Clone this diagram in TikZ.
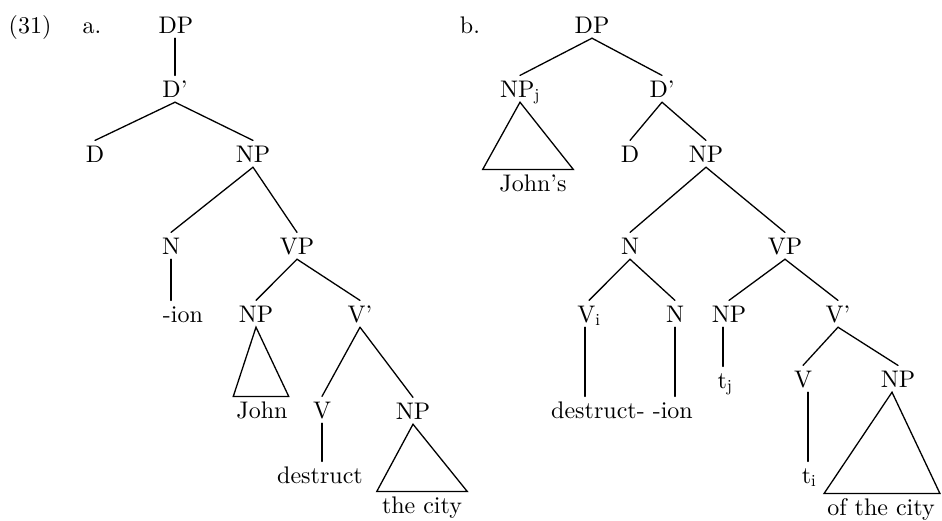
\documentclass[tikz,border=0pt]{standalone}
\usepackage{fontspec}
\setmainfont{lmroman10-regular}[Extension=.otf]
\begin{document}
\begin{tikzpicture}[x=1pt,y=-1pt,
  lab/.style={font=\fontsize{24}{28}\selectfont, inner xsep=2pt, inner ysep=5pt,
              text height=16.4pt, text depth=0pt, anchor=base},
  br/.style={line width=1.3pt, line cap=round}]
\useasboundingbox (0,0) rectangle (942,520);
% labels
\node[lab] (n31) at (30,33) {(31)};
\node[lab] (la) at (92,33) {a.};
\node[lab] (lb) at (470,33) {b.};
% ---------- tree a ----------
\node[lab] (aDP) at (176,33) {DP};
\node[lab] (aDb) at (175,97) {D'};
\node[lab] (aD) at (95,162) {D};
\node[lab] (aNP) at (253,162) {NP};
\node[lab] (aN) at (171,254) {N};
\node[lab] (aVP) at (297,254) {VP};
\node[lab] (aion) at (183,322) {-ion};
\node[lab] (aNPb) at (256,322) {NP};
\node[lab] (aVb) at (360,322) {V'};
\node[lab] (aJohn) at (262,418) {John};
\node[lab] (aV) at (322,418) {V};
\node[lab] (aNPc) at (413,419) {NP};
\node[lab] (adest) at (320,483) {destruct};
\node[lab] (acity) at (422,513) {the city};
\draw[br] (aDb.north |- aDP.south) -- (aDb.north);
\draw[br] (aDb.south) -- (aD.north);
\draw[br] (aDb.south) -- (aNP.north);
\draw[br] (aNP.south) -- (aN.north);
\draw[br] (aNP.south) -- (aVP.north);
\draw[br] (aN.south) -- (aN.south |- aion.north);
\draw[br] (aVP.south) -- (aNPb.north);
\draw[br] (aVP.south) -- (aVb.north);
\draw[br] (aNPb.south) -- ([xshift=-1pt]aJohn.north west) -- ([xshift=-1pt]aJohn.north east) -- cycle;
\draw[br] (aVb.south) -- (aV.north);
\draw[br] (aVb.south) -- (aNPc.north);
\draw[br] (aV.south) -- (aV.south |- adest.north);
\draw[br] (aNPc.south) -- ([xshift=-3pt]acity.north west) -- ([xshift=3pt]acity.north east) -- cycle;
% ---------- tree b ----------
\node[lab] (bDP) at (592,33) {DP};
\node[lab] (bNPj) at (520,97) {NP\textsubscript{j}};
\node[lab] (bDb) at (662,97) {D'};
\node[lab] (bJohns) at (533,191) {John's};
\node[lab] (bD) at (630,162) {D};
\node[lab] (bNP) at (706,162) {NP};
\node[lab] (bN) at (630,254) {N};
\node[lab] (bVP) at (785,254) {VP};
\node[lab] (bVi) at (589,322) {V\textsubscript{i}};
\node[lab] (bNb) at (675,322) {N};
\node[lab] (bNPb) at (729,322) {NP};
\node[lab] (bVb) at (838,322) {V'};
\node[lab] (bdest) at (622,418) {destruct- -ion};
\node[lab] (btj) at (725,388) {t\textsubscript{j}};
\node[lab] (bV) at (803,387) {V};
\node[lab] (bNPc) at (898,387) {NP};
\node[lab] (bti) at (809,483) {t\textsubscript{i}};
\node[lab] (bcity) at (881,515) {of the city};
\draw[br] (bDP.south) -- (bNPj.north);
\draw[br] (bDP.south) -- (bDb.north);
\draw[br] (bNPj.south) -- ([xshift=-14.5pt]bJohns.north west) -- ([xshift=4.5pt]bJohns.north east) -- cycle;
\draw[br] (bDb.south) -- (bD.north);
\draw[br] (bDb.south) -- (bNP.north);
\draw[br] (bNP.south) -- (bN.north);
\draw[br] (bNP.south) -- (bVP.north);
\draw[br] (bN.south) -- (bVi.north);
\draw[br] (bN.south) -- (bNb.north);
\draw[br] (bVP.south) -- (bNPb.north);
\draw[br] (bVP.south) -- (bVb.north);
\draw[br] ([xshift=-4pt]bVi.south) -- ([xshift=-4pt]bVi.south |- bdest.north);
\draw[br] (bNb.south) -- (bNb.south |- bdest.north);
\draw[br] ([xshift=-6pt]bNPb.south) -- ([xshift=-6pt]bNPb.south |- btj.north);
\draw[br] (bVb.south) -- (bV.north);
\draw[br] (bVb.south) -- (bNPc.north);
\draw[br] ([xshift=5pt]bV.south) -- ([xshift=5pt]bV.south |- bti.north);
\draw[br] ([xshift=-6pt]bNPc.south) -- ([xshift=-1pt]bcity.north west) -- ([xshift=3pt]bcity.north east) -- cycle;
\end{tikzpicture}
\end{document}
